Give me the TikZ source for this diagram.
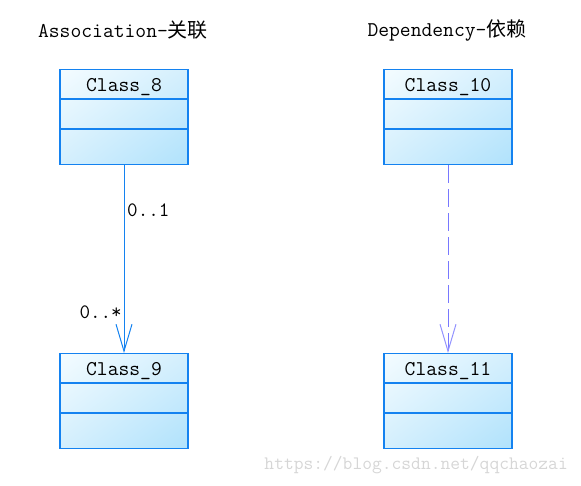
\documentclass[tikz,border=0pt]{standalone}
\usepackage{fontspec}
\newfontfamily\cjk{Noto Sans CJK SC}
\usetikzlibrary{arrows.meta,shadings}
\definecolor{umlblue}{RGB}{20,130,240}
\definecolor{deplilac}{RGB}{120,120,255}
\definecolor{boxlight}{RGB}{244,252,255}
\definecolor{boxmid}{RGB}{212,239,253}
\definecolor{boxdark}{RGB}{176,226,252}

\begin{document}
\begin{tikzpicture}[x=1pt,y=-1pt,
  classbox/.style={draw=umlblue,line width=1.1pt,minimum width=128pt,minimum height=95pt,
    inner sep=0pt,shade,upper left=boxlight,lower right=boxdark,upper right=boxmid,lower left=boxmid},
  classname/.style={font=\ttfamily\fontsize{21}{23}\selectfont,inner sep=0pt},
  title/.style={font=\ttfamily\fontsize{21}{23}\selectfont,inner sep=0pt},
  mult/.style={font=\ttfamily\fontsize{20.5}{22}\selectfont,inner sep=0pt},
  assoc/.style={umlblue,line width=1pt,-{Straight Barb[length=27pt,width=16pt,line width=1pt]}},
  depend/.style={deplilac,line width=1pt,dash pattern=on 18pt off 6pt,
    -{Straight Barb[length=27pt,width=16pt,line width=1pt,color=deplilac!80]}}]
  \useasboundingbox (0,0) rectangle (581,485);
  % titles
  \node[title] (t1) at (123,30) {Association-{\cjk\fontsize{20}{22}\selectfont 关联}};
  \node[title] (t2) at (447,30) {Dependency-{\cjk\fontsize{20}{22}\selectfont 依赖}};
  % classes
  \node[classbox] (c8) at (124,117) {};
  \node[classbox] (c9) at (124,401) {};
  \node[classbox] (c10) at (448,117) {};
  \node[classbox] (c11) at (448,401) {};
  \foreach \c/\n in {c8/Class\_8,c9/Class\_9,c10/Class\_10,c11/Class\_11}{
    \node[classname] at ([yshift=-18pt]\c.north) {\n};
    \draw[umlblue,line width=1.1pt] ([yshift=-30pt]\c.north west) -- ([yshift=-30pt]\c.north east);
    \draw[umlblue,line width=1.1pt] ([yshift=-60pt]\c.north west) -- ([yshift=-60pt]\c.north east);
  }
  % connectors
  \draw[assoc] (c8.south) -- (c9.north);
  \draw[depend] (c10.south) -- (c11.north);
  \node[mult,anchor=west] (m1) at (127,210) {0..1};
  \node[mult,anchor=east] (m2) at (122,312) {0..*};
  % watermark
  \node[title,font=\ttfamily\fontsize{19}{21}\selectfont,text=black!16,anchor=east] (wm) at (568,465) {https://blog.csdn.net/qqchaozai};
\end{tikzpicture}
\end{document}
